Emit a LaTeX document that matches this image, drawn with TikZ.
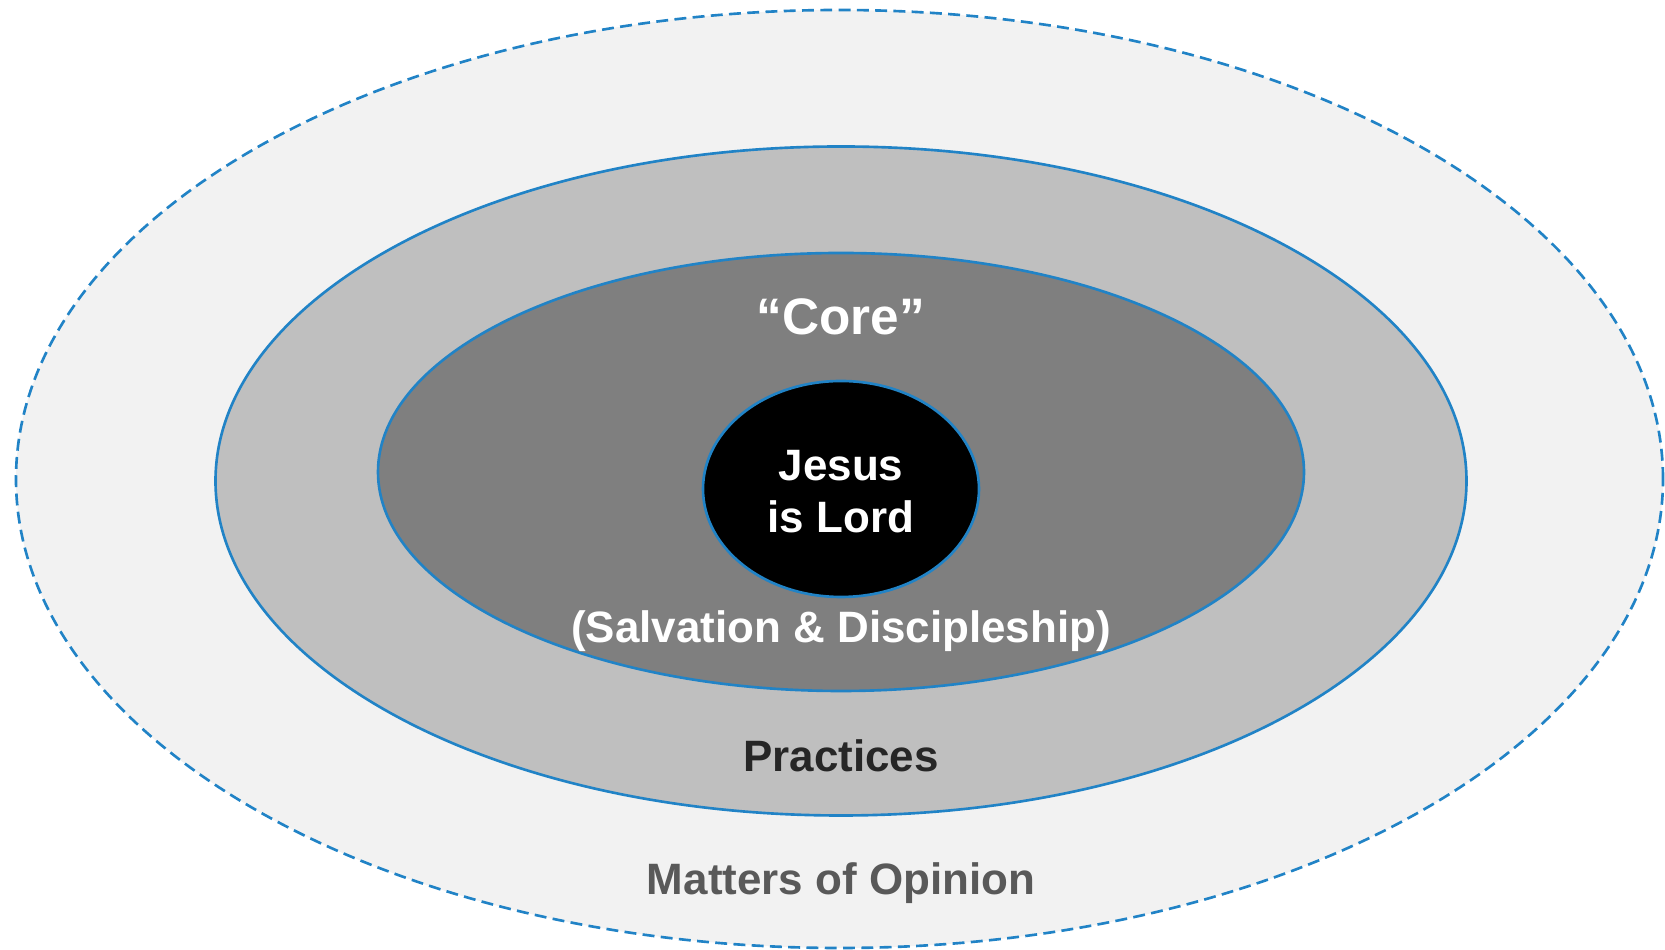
\documentclass[tikz,border=0pt]{standalone}
\usepackage{fontspec}
\setmainfont{Liberation Sans}
\usepackage{tikz}
\usetikzlibrary{calc}
\definecolor{ringblue}{HTML}{2183C6}
\definecolor{opinionfill}{HTML}{F2F2F2}
\definecolor{practicefill}{HTML}{BFBFBF}
\definecolor{corefill}{HTML}{7F7F7F}
\definecolor{practicetext}{HTML}{262626}
\definecolor{opiniontext}{HTML}{595959}

\begin{document}
\begin{tikzpicture}[ring/.style={draw=ringblue, line width=0.75pt},
        lbl/.style={font=\bfseries\fontsize{12.5}{14.8}\selectfont, anchor=base, inner sep=0pt}]
        \useasboundingbox (0,0) rectangle (16.65,9.5);

        \coordinate (M) at (8.395,4.71);
        \coordinate (P) at (8.41,4.69);
        \coordinate (C) at (8.41,4.78);
        \coordinate (J) at (8.41,4.61);

        \draw[ring, dash pattern=on 3.4pt off 1.8pt, fill=opinionfill] (M) ellipse (8.235 and 4.69);
        \draw[ring, fill=practicefill] (P) ellipse (6.255 and 3.345);
        \draw[ring, fill=corefill] (C) ellipse (4.63 and 2.19);
        \draw[ring, fill=black] (J) ellipse (1.38 and 1.08);

        \node[lbl, white, font=\bfseries\fontsize{14.6}{17}\selectfont] (core) at (8.41,6.15) {``Core''};
        \node[lbl, white, anchor=center, align=center] (lord) at (8.41,4.58) {Jesus\\is Lord};
        \node[lbl, white] (salv) at (8.41,3.07) {(Salvation \& Discipleship)};
        \node[lbl, practicetext] (prac) at (8.41,1.78) {Practices};
        \node[lbl, opiniontext] (opin) at (8.41,0.55) {Matters of Opinion};
    \end{tikzpicture}
\end{document}
